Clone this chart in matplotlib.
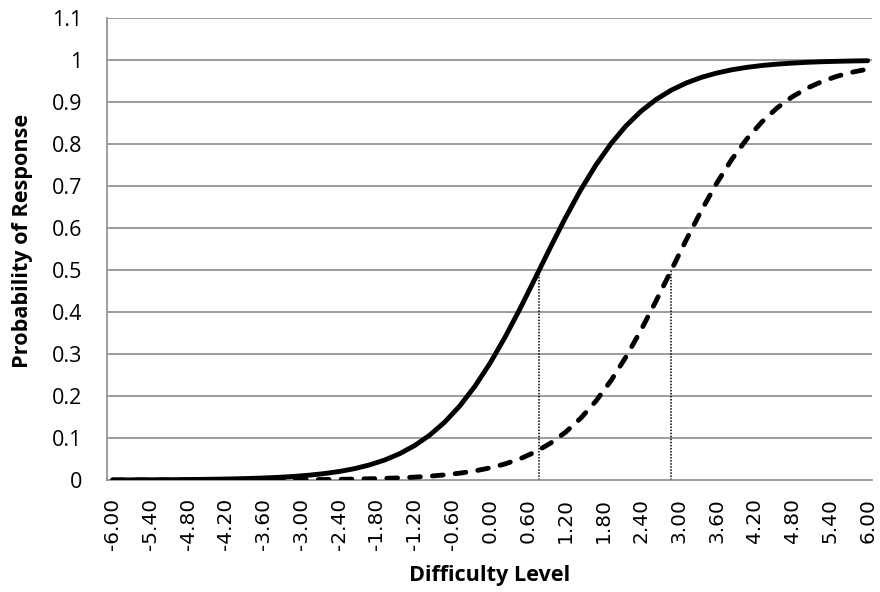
import matplotlib
matplotlib.use("Agg")
import matplotlib.pyplot as plt


# DATA
difficulty = [-6.00, -5.76, -5.52, -5.28, -5.04, -4.80, -4.56, -4.32, -4.08, -3.84,
              -3.60, -3.36, -3.12, -2.88, -2.64, -2.40, -2.16, -1.92, -1.68, -1.44,
              -1.20, -0.96, -0.72, -0.48, -0.24, 0.00, 0.24, 0.48, 0.72, 0.96,
              1.20, 1.44, 1.68, 1.92, 2.16, 2.40, 2.64, 2.88, 3.12, 3.36,
              3.60, 3.84, 4.08, 4.32, 4.56, 4.80, 5.04, 5.28, 5.52, 5.76, 6.00]

easy_item = [0.0003, 0.0003, 0.0005, 0.0006, 0.0008, 0.0011, 0.0015, 0.0020, 0.0027, 0.0036,
             0.0048, 0.0064, 0.0085, 0.0114, 0.0152, 0.0202, 0.0269, 0.0358, 0.0474, 0.0625,
             0.0820, 0.1069, 0.1382, 0.1769, 0.2237, 0.2786, 0.3410, 0.4095, 0.4817, 0.5547,
             0.6254, 0.6911, 0.7498, 0.8007, 0.8434, 0.8783, 0.9063, 0.9283, 0.9455, 0.9588,
             0.9689, 0.9767, 0.9825, 0.9869, 0.9902, 0.9926, 0.9945, 0.9959, 0.9969, 0.9977,
             0.9983]

hard_item = [0.0000, 0.0000, 0.0000, 0.0000, 0.0001, 0.0001, 0.0001, 0.0002, 0.0002, 0.0003,
             0.0004, 0.0005, 0.0007, 0.0009, 0.0012, 0.0016, 0.0021, 0.0029, 0.0038, 0.0051,
             0.0068, 0.0091, 0.0122, 0.0163, 0.0217, 0.0289, 0.0384, 0.0508, 0.0669, 0.0877,
             0.1141, 0.1472, 0.1878, 0.2366, 0.2935, 0.3576, 0.4273, 0.5000, 0.5727, 0.6424,
             0.7065, 0.7634, 0.8122, 0.8528, 0.8859, 0.9123, 0.9331, 0.9492, 0.9616, 0.9711,
             0.9783]

# item difficulty markers (x where P = 0.5)
marker_x = [0.78, 2.88]
marker_top = 0.5

x_ticks = [-6.00, -5.40, -4.80, -4.20, -3.60, -3.00, -2.40, -1.80, -1.20, -0.60, 0.00,
           0.60, 1.20, 1.80, 2.40, 3.00, 3.60, 4.20, 4.80, 5.40, 6.00]
y_ticks = [0, 0.1, 0.2, 0.3, 0.4, 0.5, 0.6, 0.7, 0.8, 0.9, 1.0, 1.1]
y_labels = ['0', '0.1', '0.2', '0.3', '0.4', '0.5', '0.6', '0.7', '0.8', '0.9', '1', '1.1']


plt.rcParams['font.family'] = ['Open Sans', 'DejaVu Sans']

fig = plt.figure(figsize=(8.8, 5.92), dpi=100)
ax = fig.add_axes([0.1216, 0.1892, 0.8694, 0.7804])

GRID = '#8c8c8c'

for yv in y_ticks[1:]:
    ax.axhline(yv, color=GRID, linewidth=1.2, zorder=1)

for xv in marker_x:
    ax.plot([xv, xv], [0, marker_top], color='black', linestyle=(0, (1, 1)),
            linewidth=1.1, zorder=2)

ax.plot(difficulty, easy_item, color='black', linewidth=3.5,
        solid_capstyle='round', zorder=3)
ax.plot(difficulty, hard_item, color='black', linewidth=3.5,
        linestyle=(0, (2.2, 2.5)), dash_capstyle='round', zorder=3)

ax.set_xlim(-6.09, 6.07)
ax.set_ylim(0, 1.1)

ax.set_xticks(x_ticks)
ax.set_xticklabels(['%.2f' % v for v in x_ticks], rotation=90, fontsize=14.5,
                   family='DejaVu Sans')
ax.set_yticks(y_ticks)
ax.set_yticklabels(y_labels, fontsize=15.5)
ax.tick_params(length=0)
ax.tick_params(axis='y', pad=18)
ax.tick_params(axis='x', pad=13)

for side in ['top', 'right']:
    ax.spines[side].set_visible(False)
for side in ['left', 'bottom']:
    ax.spines[side].set_color(GRID)
    ax.spines[side].set_linewidth(1.2)

ax.set_xlabel('Difficulty Level', fontsize=15.6, fontweight='bold')
ax.xaxis.set_label_coords(0.5, -0.184)
ax.set_ylabel('Probability of Response', fontsize=15.6, fontweight='bold')
ax.yaxis.set_label_coords(-0.097, 0.517)

fig.savefig('out.png', dpi=100)
